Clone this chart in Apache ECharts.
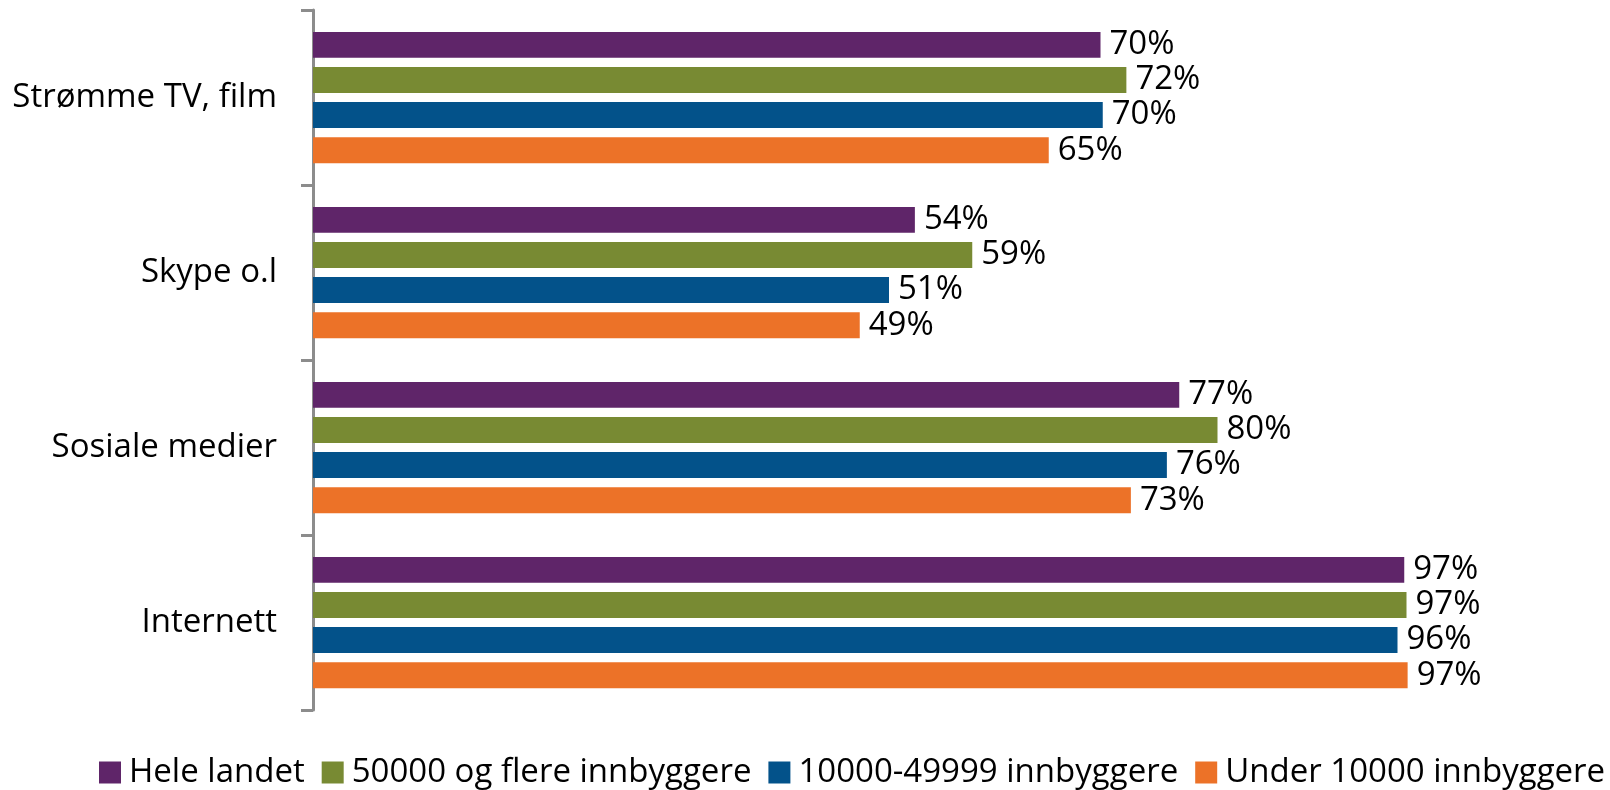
<!DOCTYPE html>
<html>
<head>
<meta charset="utf-8">
<script src="https://cdn.jsdelivr.net/npm/echarts@6/dist/echarts.min.js"></script>
<style>
  html, body { margin: 0; padding: 0; background: #fff; }
  #chart { width: 1610px; height: 790px; }
</style>
</head>
<body>
<div id="chart"></div>
<script>
var categories = ["Strømme TV, film", "Skype o.l", "Sosiale medier", "Internett"];
var seriesNames = ["Hele landet", "50000 og flere innbyggere", "10000-49999 innbyggere", "Under 10000 innbyggere"];
var heleLandet = [70.0, 53.5, 77.0, 97.0];
var store = [72.3, 58.6, 80.4, 97.2];
var mellom = [70.2, 51.2, 75.9, 96.4];
var smaa = [65.4, 48.6, 72.7, 97.3];
var colors = ["#5f2569", "#788a33", "#03528a", "#ec7228"];

var font = "Open Sans";
var fontSize = 33;
var chart = echarts.init(document.getElementById("chart"));

function makeSeries(name, data, color) {
  return {
    name: name,
    type: "bar",
    data: data,
    barGap: "35%",
    barCategoryGap: "25%",
    itemStyle: { color: color },
    label: {
      show: true,
      position: "right",
      distance: 9,
      color: "#000",
      fontFamily: font,
      fontSize: fontSize,
      formatter: function (p) { return Math.round(p.value) + "%"; }
    }
  };
}

var option = {
  animation: false,
  textStyle: { fontFamily: font },
  grid: { left: 313, right: 172, top: 10, bottom: 80 },
  legend: {
    left: 99,
    bottom: 1,
    width: 1600,
    padding: 0,
    itemWidth: 22,
    itemHeight: 22,
    itemGap: 17,
    icon: "rect",
    textStyle: { fontFamily: font, fontSize: fontSize, color: "#000", padding: [0, 0, 0, 3] },
    data: seriesNames
  },
  xAxis: {
    type: "value",
    min: 0,
    max: 100,
    show: false
  },
  yAxis: {
    type: "category",
    inverse: true,
    data: categories,
    axisLine: { show: true, lineStyle: { color: "#8c8c8c", width: 3 } },
    axisTick: { show: true, length: 12, lineStyle: { color: "#8c8c8c", width: 3 } },
    axisLabel: { margin: 36, color: "#000", fontFamily: font, fontSize: fontSize }
  },
  series: [
    makeSeries(seriesNames[0], heleLandet, colors[0]),
    makeSeries(seriesNames[1], store, colors[1]),
    makeSeries(seriesNames[2], mellom, colors[2]),
    makeSeries(seriesNames[3], smaa, colors[3])
  ]
};

chart.setOption(option);
window.addEventListener("resize", function () { chart.resize(); });
</script>
</body>
</html>
